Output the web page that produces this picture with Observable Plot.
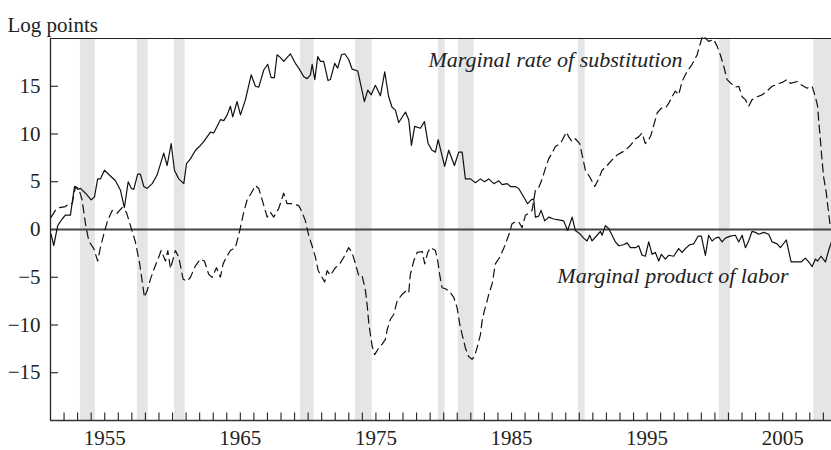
<!DOCTYPE html>
<html>
<head>
<meta charset="utf-8">
<script src="https://cdn.jsdelivr.net/npm/d3@7"></script>
<script src="https://cdn.jsdelivr.net/npm/@observablehq/plot@0.6"></script>
<style>
  html, body { margin: 0; padding: 0; background: #fff; }
  svg { font-family: "Liberation Serif", "Times New Roman", serif; }
</style>
</head>
<body>
<div id="chart"></div>
<script>
// ---- Data ----
const mplYear = [1951.05,1951.24,1951.53,1951.86,1952.10,1952.47,1952.77,1953.01,1953.21,1953.58,1954.00,1954.24,1954.48,1954.68,1954.98,1955.42,1955.79,1956.16,1956.45,1956.73,1956.97,1957.14,1957.43,1957.63,1957.88,1958.13,1958.50,1958.86,1959.35,1959.60,1959.90,1960.14,1960.46,1960.83,1961.03,1961.32,1961.69,1962.06,1962.30,1962.80,1963.04,1963.53,1963.78,1964.03,1964.27,1964.44,1964.76,1965.01,1965.38,1965.80,1966.11,1966.36,1966.73,1967.02,1967.27,1967.51,1967.71,1967.96,1968.20,1968.69,1969.06,1969.31,1969.68,1969.93,1970.17,1970.30,1970.49,1970.71,1970.91,1971.15,1971.47,1971.64,1971.96,1972.18,1972.46,1972.70,1972.99,1973.24,1973.66,1973.86,1974.15,1974.40,1974.65,1974.96,1975.33,1975.65,1975.94,1976.19,1976.44,1976.68,1977.18,1977.42,1977.62,1977.86,1978.28,1978.58,1978.85,1979.14,1979.39,1979.59,1980.07,1980.37,1980.79,1981.11,1981.36,1981.60,1981.97,1982.34,1982.71,1983.00,1983.32,1983.69,1984.06,1984.31,1984.68,1984.92,1985.29,1985.53,1985.90,1986.19,1986.45,1986.64,1986.76,1987.01,1987.18,1987.45,1987.74,1988.11,1988.48,1988.85,1989.14,1989.47,1989.71,1990.08,1990.32,1990.57,1990.77,1990.94,1991.31,1991.56,1991.68,1991.92,1992.17,1992.42,1992.66,1992.91,1993.27,1993.53,1993.77,1994.14,1994.38,1994.63,1994.87,1995.12,1995.37,1995.61,1995.86,1996.05,1996.35,1996.59,1996.96,1997.33,1997.58,1997.82,1998.14,1998.44,1998.76,1999.00,1999.30,1999.54,1999.79,2000.04,2000.28,2000.53,2000.77,2001.14,2001.51,2001.76,2002.01,2002.25,2002.49,2002.74,2002.99,2003.23,2003.60,2003.97,2004.22,2004.59,2004.83,2005.27,2005.62,2005.94,2006.36,2006.67,2006.92,2007.17,2007.41,2007.58,2007.83,2008.15,2008.39,2008.59];
const mplValue = [-0.5,-1.7,0.4,1.1,1.5,1.5,4.5,4.2,4.3,3.8,3.1,3.4,5.3,5.3,6.2,5.6,5.1,4.1,2.3,5.0,4.3,4.2,5.8,5.8,4.5,4.3,4.8,5.7,8.0,6.7,9.0,6.2,5.3,4.8,6.9,7.4,8.3,8.8,9.2,10.2,10.1,11.5,11.4,12.0,12.9,11.8,13.4,12.0,13.6,16.2,15.0,14.9,16.7,17.3,15.9,15.9,18.3,18.0,17.6,18.4,17.4,16.9,16.0,15.8,16.2,17.3,15.7,18.1,17.6,17.6,15.6,15.7,17.4,16.9,18.3,18.4,17.8,16.8,16.6,15.3,13.4,14.6,14.1,15.1,14.0,16.5,13.9,12.8,12.5,11.2,12.3,11.5,8.8,10.8,10.6,11.3,9.0,8.3,8.1,9.4,6.6,8.3,6.7,8.1,8.1,5.3,5.3,4.9,5.3,5.0,5.3,4.8,5.1,4.7,4.8,4.5,4.5,4.3,3.4,2.7,3.1,3.2,1.3,1.4,2.0,0.9,1.3,1.1,1.0,0.9,-0.1,1.3,-0.1,-0.5,-0.9,-1.2,-0.6,-1.2,-0.6,-0.2,-0.6,0.4,0.1,-0.6,-1.3,-1.7,-1.6,-1.4,-1.9,-1.9,-1.7,-2.7,-2.8,-1.3,-2.6,-2.4,-3.3,-2.6,-3.1,-2.7,-2.8,-2.0,-2.4,-2.0,-1.6,-1.5,-0.7,-0.7,-2.7,-0.6,-1.2,-0.9,-0.8,-1.3,-0.9,-0.7,-0.6,-1.3,-0.6,-1.9,-1.2,-0.2,-0.3,-0.5,-0.3,-0.5,-1.3,-1.5,-1.9,-1.1,-3.4,-3.4,-3.4,-3.0,-3.4,-3.9,-3.1,-3.3,-2.8,-3.4,-2.2,-1.3];

const mrsYear = [1951.05,1951.36,1951.68,1952.10,1952.35,1952.60,1952.84,1953.08,1953.33,1953.58,1953.82,1954.19,1954.48,1954.68,1954.93,1955.18,1955.55,1955.91,1956.28,1956.60,1956.90,1957.26,1957.58,1957.93,1958.13,1958.37,1958.67,1958.98,1959.16,1959.48,1959.65,1959.85,1960.04,1960.21,1960.46,1960.78,1961.08,1961.32,1961.69,1962.06,1962.35,1962.67,1962.92,1963.24,1963.53,1963.73,1963.97,1964.27,1964.64,1964.96,1965.25,1965.50,1965.80,1966.11,1966.36,1966.61,1966.98,1967.22,1967.46,1967.83,1968.20,1968.45,1968.82,1969.31,1969.56,1969.80,1970.04,1970.29,1970.54,1970.74,1970.91,1971.22,1971.40,1971.64,1972.01,1972.33,1972.63,1972.99,1973.24,1973.49,1973.73,1973.98,1974.23,1974.36,1974.48,1974.72,1974.91,1975.21,1975.46,1975.70,1975.83,1976.07,1976.31,1976.56,1976.93,1977.25,1977.42,1977.54,1977.79,1978.04,1978.41,1978.60,1978.82,1979.02,1979.39,1979.56,1979.70,1979.88,1980.13,1980.49,1980.74,1980.99,1981.18,1981.36,1981.60,1981.84,1982.09,1982.26,1982.46,1982.71,1982.83,1983.00,1983.20,1983.32,1983.57,1983.81,1984.13,1984.42,1984.79,1985.04,1985.29,1985.53,1985.78,1986.03,1986.34,1986.52,1986.76,1987.01,1987.26,1987.50,1987.74,1987.99,1988.24,1988.61,1989.05,1989.22,1989.47,1989.71,1990.03,1990.21,1990.45,1990.77,1991.14,1991.43,1991.68,1992.05,1992.42,1992.79,1993.16,1993.40,1993.77,1994.14,1994.38,1994.63,1994.87,1995.12,1995.29,1995.49,1995.74,1996.05,1996.35,1996.59,1996.84,1997.08,1997.33,1997.58,1997.82,1998.07,1998.32,1998.69,1998.93,1999.10,1999.54,1999.91,2000.16,2000.40,2000.65,2000.90,2001.27,2001.51,2001.76,2002.01,2002.25,2002.49,2002.74,2003.11,2003.48,2003.85,2004.22,2004.59,2004.96,2005.32,2005.57,2006.06,2006.31,2006.80,2007.17,2007.41,2007.58,2007.65,2007.78,2007.90,2008.02,2008.22,2008.39,2008.52];
const mrsValue = [1.3,2.0,2.3,2.4,2.7,2.7,4.5,4.3,3.1,0.6,-1.2,-2.0,-3.3,-1.9,-0.5,0.8,2.0,1.7,2.3,1.8,0.4,-1.3,-3.6,-7.1,-6.4,-5.2,-4.0,-2.9,-2.2,-3.3,-2.2,-4.1,-3.1,-2.2,-2.9,-5.2,-5.4,-5.0,-3.8,-3.1,-3.3,-4.7,-5.0,-4.0,-5.0,-3.6,-2.9,-2.2,-1.9,-0.1,1.8,3.1,3.8,4.6,4.3,3.1,1.3,1.8,1.3,2.2,3.8,2.7,2.7,2.5,1.8,0.9,-0.6,-1.7,-2.9,-4.3,-4.7,-5.5,-4.3,-4.8,-4.0,-3.6,-2.9,-1.9,-2.4,-3.6,-4.8,-4.8,-6.4,-8.0,-9.9,-12.2,-13.1,-12.4,-12.0,-11.5,-10.5,-9.4,-8.9,-7.5,-6.8,-6.4,-6.6,-4.7,-3.3,-2.4,-2.3,-3.6,-2.4,-1.9,-2.2,-3.3,-4.7,-6.1,-6.2,-6.6,-7.1,-8.2,-9.9,-11.0,-12.4,-13.3,-13.6,-13.3,-12.4,-11.0,-9.6,-8.5,-7.5,-6.8,-5.7,-3.6,-2.9,-2.0,-0.6,0.6,0.8,0.8,0.2,1.5,1.8,2.0,4.1,4.4,5.3,6.4,7.4,8.0,8.7,9.0,10.2,9.7,9.2,9.5,9.0,7.8,6.2,5.5,4.5,5.3,6.2,6.7,7.3,7.8,8.1,8.3,8.8,9.5,9.7,10.1,9.0,9.4,9.9,10.9,12.2,12.7,12.7,13.2,13.9,14.5,14.1,15.5,16.2,16.8,17.3,18.3,19.5,20.3,19.7,19.9,19.2,18.3,17.1,15.7,15.2,14.9,15.0,13.9,13.6,12.9,13.6,13.9,14.1,14.5,15.0,15.2,15.4,15.7,15.3,15.5,15.2,14.8,15.0,13.9,12.9,11.5,9.4,7.3,5.5,3.8,1.7,0.2];

// Recession shading (start, end in years)
const recessionStart = [1953.21,1957.41,1960.14,1969.43,1973.49,1979.61,1981.08,1989.93,2000.33,2007.29];
const recessionEnd   = [1954.31,1958.20,1960.93,1970.44,1974.72,1980.10,1982.24,1990.43,2001.14,2008.60];

const yTickValues = [-15,-10,-5,0,5,10,15];
const xTickLabels = [1955,1965,1975,1985,1995,2005];
const xMinorTicks = d3.range(1952, 2009);

const yAxisTitle = "Log points";
const seriesNames = ["Marginal rate of substitution", "Marginal product of labor"];
const seriesLabelX = [1978.87, 1988.38];
const seriesLabelY = [17.8, -4.84];

// ---- Build tables ----
const mpl = mplYear.map((x, i) => ({x, y: mplValue[i]}));
const mrs = mrsYear.map((x, i) => ({x, y: mrsValue[i]}));
const recessions = recessionStart.map((s, i) => ({s, e: recessionEnd[i]}));
const labels = seriesNames.map((t, i) => ({t, x: seriesLabelX[i], y: seriesLabelY[i]}));

const W = 831, H = 450, ML = 50, MR = 0, MT = 38, MB = 30;
const innerW = W - ML - MR, innerH = H - MT - MB;

const chart = Plot.plot({
  width: W,
  height: H,
  marginLeft: ML,
  marginRight: MR,
  marginTop: MT,
  marginBottom: MB,
  style: {fontFamily: '"Liberation Serif", "Times New Roman", serif', fontSize: "21px", background: "#fff", color: "#222"},
  x: {domain: [1951, 2008.6]},
  y: {domain: [-20, 20]},
  marks: [
    Plot.rect(recessions, {x1: "s", x2: "e", fill: "#e4e5e7"}),
    // inward ticks
    Plot.ruleX(xMinorTicks, {x: d => d, insetTop: innerH - 7.5, stroke: "#222", strokeWidth: 1.1}),
    Plot.ruleY(yTickValues, {y: d => d, insetRight: innerW - 8, stroke: "#222", strokeWidth: 1.1}),
    Plot.ruleY([0], {stroke: "#444", strokeWidth: 1.8}),
    Plot.line(mrs, {x: "x", y: "y", stroke: "#111", strokeWidth: 1.2, strokeDasharray: "8,5"}),
    Plot.line(mpl, {x: "x", y: "y", stroke: "#111", strokeWidth: 1.2}),
    // frame: top, left, bottom
    Plot.ruleY([20], {stroke: "#222", strokeWidth: 1.2}),
    Plot.ruleY([-20], {stroke: "#333", strokeWidth: 1.6}),
    Plot.ruleX([1951], {stroke: "#222", strokeWidth: 1.3}),
    Plot.axisY({ticks: yTickValues, tickSize: 0, tickPadding: 10, fontSize: 21, label: null}),
    Plot.axisX({ticks: xTickLabels, tickSize: 0, tickPadding: 10, tickFormat: d => String(d), fontSize: 21, label: null}),
    Plot.text([yAxisTitle], {text: d => d, frameAnchor: "top-left", textAnchor: "start", dx: -43, dy: -21, fontSize: 21, fill: "#222"}),
    Plot.text(labels, {x: "x", y: "y", text: "t", textAnchor: "start", fontSize: 22, fontStyle: "italic", fill: "#222"})
  ]
});
document.getElementById("chart").appendChild(chart);
</script>
</body>
</html>
